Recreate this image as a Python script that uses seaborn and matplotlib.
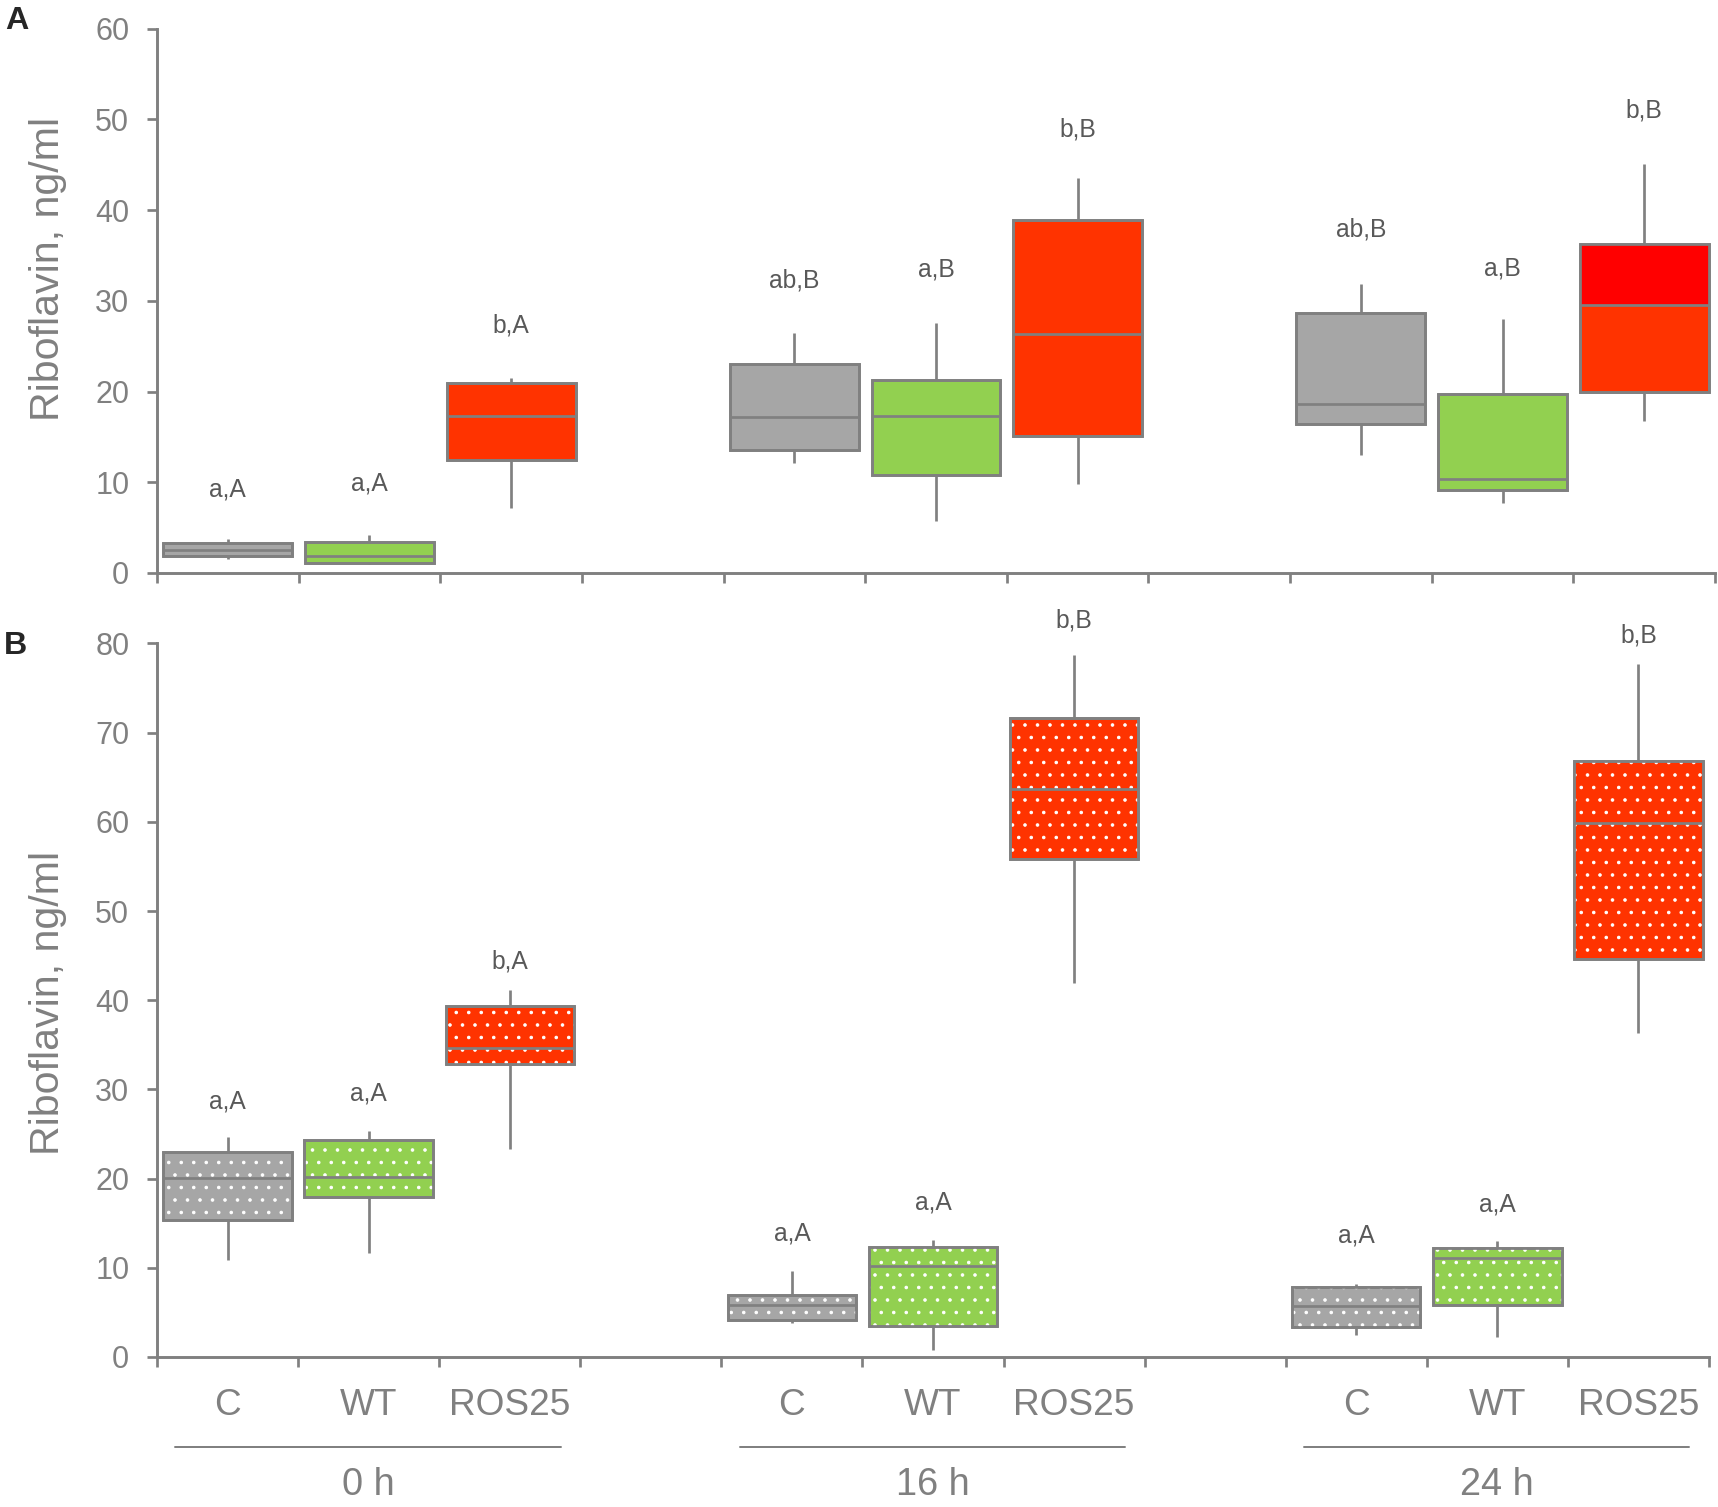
import numpy as np
import pandas as pd
import matplotlib.pyplot as plt
import matplotlib.patches as mpatches
import seaborn as sns

sns.set_style("ticks")
plt.rcParams['font.family'] = ['Liberation Sans', 'DejaVu Sans']
plt.rcParams['hatch.linewidth'] = 1.0

# categories
times = ["0 h", "16 h", "24 h"]
strains = ["C", "WT", "ROS25"]

# panel A: five-number summary of each box (0 h C, WT, ROS25, 16 h ..., 24 h ...)
a_low = [1.5, 1.0, 7.2, 12.1, 5.7, 9.8, 13.0, 7.7, 16.8]
a_q1 = [1.9, 1.15, 12.5, 13.5, 10.8, 15.1, 16.4, 9.2, 20.0]
a_med = [2.5, 1.9, 17.3, 17.2, 17.3, 26.3, 18.6, 10.4, 29.5]
a_q3 = [3.3, 3.45, 20.9, 23.0, 21.3, 38.9, 28.7, 19.7, 36.2]
a_high = [3.7, 4.2, 21.5, 26.5, 27.6, 43.5, 31.9, 28.0, 45.1]
a_letters = ["a,A", "a,A", "b,A", "ab,B", "a,B", "b,B", "ab,B", "a,B", "b,B"]
a_letter_y = [9.2, 9.9, 27.3, 32.2, 33.4, 48.9, 37.8, 33.6, 51.0]

# panel B
b_low = [10.9, 11.7, 23.3, 3.8, 0.8, 41.9, 2.5, 2.2, 36.3]
b_q1 = [15.35, 17.9, 32.9, 4.2, 3.5, 55.8, 3.4, 5.8, 44.6]
b_med = [20.1, 20.2, 34.6, 5.8, 10.2, 63.7, 5.7, 11.1, 59.9]
b_q3 = [23.0, 24.3, 39.4, 6.9, 12.3, 71.6, 7.8, 12.2, 66.8]
b_high = [24.7, 25.3, 41.1, 9.6, 13.1, 78.7, 8.2, 13.0, 77.7]
b_letters = ["a,A", "a,A", "b,A", "a,A", "a,A", "b,B", "a,A", "a,A", "b,B"]
b_letter_y = [28.6, 29.6, 44.3, 13.9, 17.3, 82.6, 13.6, 17.1, 80.9]

colors = {"C": "#A6A6A6", "WT": "#92D050", "ROS25": "#FF3300"}
line_grey = "#808080"
text_grey = "#595959"

# slot order with empty gaps between time points
order = []
for k, t in enumerate(times):
    order += [f"{t} {s}" for s in strains]
    if k < len(times) - 1:
        order.append(f"gap{k}")
box_slots = [f"{t} {s}" for t in times for s in strains]


def make_df(low, q1, med, q3, high):
    rows = []
    for i, slot in enumerate(box_slots):
        for v in (low[i], q1[i], med[i], q3[i], high[i]):
            rows.append({"slot": slot, "strain": slot.split(" ")[-1], "value": v})
    return pd.DataFrame(rows)


df_a = make_df(a_low, a_q1, a_med, a_q3, a_high)
df_b = make_df(b_low, b_q1, b_med, b_q3, b_high)

W, H, DPI = 1718, 1507, 75
fig = plt.figure(figsize=(W / DPI, H / DPI), dpi=DPI)
ax_a = fig.add_axes([157 / W, (H - 573) / H, (1715 - 157) / W, (573 - 28.5) / H])
ax_b = fig.add_axes([157 / W, (H - 1357) / H, (1709 - 157) / W, (1357 - 643.5) / H])


def draw_panel(ax, df, ymax, letters, letter_y, dotted):
    sns.boxplot(data=df, x="slot", y="value", hue="strain", order=order, hue_order=strains,
                palette=colors, saturation=1, width=0.91, whis=(0, 100), showcaps=False,
                showfliers=False, linecolor=line_grey, linewidth=2.6, dodge=False,
                legend=False, ax=ax)
    boxes = list(ax.patches)
    for box in boxes:
        box.set_zorder(2)
        if dotted:
            ax.add_patch(mpatches.PathPatch(box.get_path(), transform=box.get_transform(),
                                            facecolor="none", edgecolor="white", linewidth=0,
                                            hatch=".", zorder=2.2))
        ax.add_patch(mpatches.PathPatch(box.get_path(), transform=box.get_transform(),
                                        facecolor="none", edgecolor=line_grey,
                                        linewidth=2.6, zorder=2.4))
    for ln in ax.lines:
        ln.set_zorder(2.5)

    ax.set_xlim(-0.5, len(order) - 0.5)
    ax.set_ylim(0, ymax)
    ax.set_yticks(np.arange(0, ymax + 1, 10))
    ax.set_xticks(np.arange(-0.5, len(order), 1))
    ax.set_xticklabels([])
    ax.set_xlabel("")
    ax.set_ylabel("Riboflavin, ng/ml", fontsize=39.5, color=line_grey)
    for s in ["top", "right"]:
        ax.spines[s].set_visible(False)
    for s in ["left", "bottom"]:
        ax.spines[s].set_color(line_grey)
        ax.spines[s].set_linewidth(2.8)
    ax.tick_params(axis="both", direction="out", length=9.6, width=2.6, color=line_grey,
                   labelcolor=line_grey, labelsize=29.3, pad=17)

    for i, slot in enumerate(box_slots):
        ax.text(order.index(slot), letter_y[i], letters[i], ha="center", va="center",
                fontsize=23.7, color=text_grey, clip_on=False)


draw_panel(ax_a, df_a, 60, a_letters, a_letter_y, dotted=False)
draw_panel(ax_b, df_b, 80, b_letters, b_letter_y, dotted=True)

# upper half of the 24 h ROS25 box in panel A is pure red
k = box_slots.index("24 h ROS25")
ax_a.bar(order.index("24 h ROS25"), a_q3[k] - a_med[k], bottom=a_med[k], width=0.91,
         color="#FF0000", edgecolor="none", zorder=2.1)

ax_a.yaxis.set_label_coords(-0.058, 0.558)
ax_b.yaxis.set_label_coords(-0.058, 0.496)

# strain and time labels under panel B
trans = ax_b.get_xaxis_transform()
for slot in box_slots:
    ax_b.text(order.index(slot), -0.0813, slot.split(" ")[-1], transform=trans,
              ha="center", va="baseline", fontsize=35.5, color=line_grey, clip_on=False)
for t in times:
    centre = order.index(f"{t} WT")
    ax_b.plot([centre - 1.37, centre + 1.36], [-0.1257, -0.1257], transform=trans,
              color=line_grey, lw=1.9, clip_on=False)
    ax_b.text(centre, -0.193, t, transform=trans, ha="center", va="baseline",
              fontsize=36.5, color=line_grey, clip_on=False)

fig.text(5 / W, 1 - 6 / H, "A", fontsize=31, fontweight="bold", ha="left", va="top")
fig.text(4 / W, 1 - 631 / H, "B", fontsize=31, fontweight="bold", ha="left", va="top")

fig.savefig("out.png", dpi=DPI)
